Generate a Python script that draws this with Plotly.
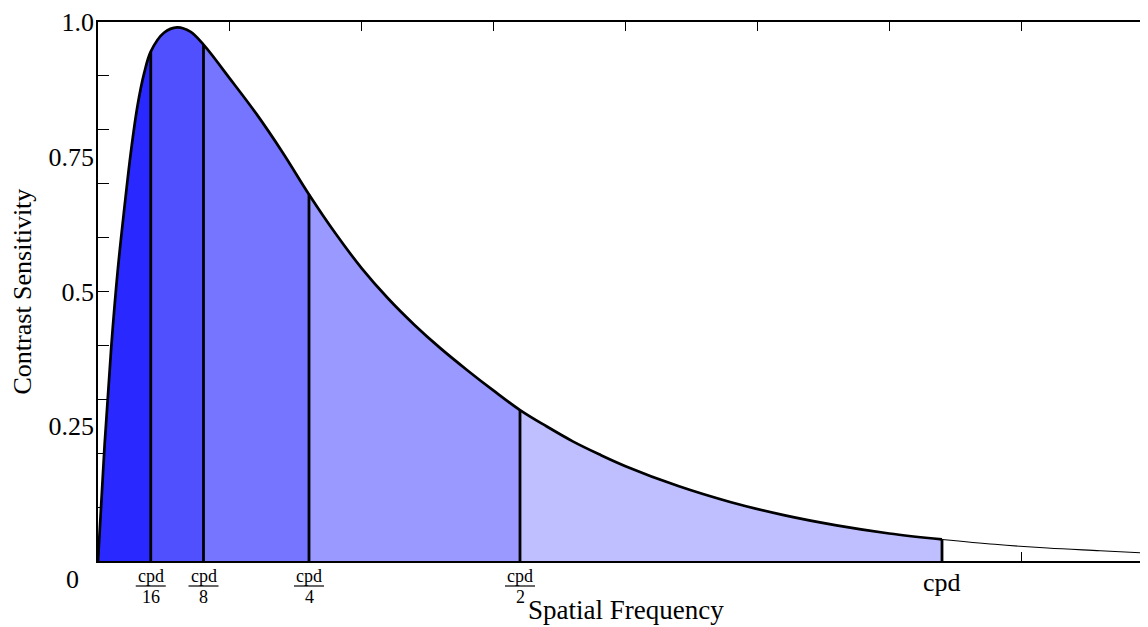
import plotly.graph_objects as go

# ---- data ----
freq = [0, 0.25, 0.5, 0.75, 1, 1.25, 1.5, 1.75, 2, 2.5, 3, 3.5, 4, 5, 6, 7, 8, 9, 10,
        11, 12, 13, 14, 15, 16, 17, 18, 19, 20, 22, 24, 26, 28, 30, 32, 34, 36, 38, 40]
sens = [0, 0.215, 0.395, 0.54, 0.655, 0.76, 0.845, 0.905, 0.945, 0.98, 0.99, 0.982, 0.958,
        0.895, 0.83, 0.758, 0.68, 0.608, 0.543, 0.487, 0.438, 0.394, 0.354, 0.316, 0.28,
        0.25, 0.222, 0.198, 0.176, 0.139, 0.109, 0.085, 0.066, 0.051, 0.040, 0.031,
        0.024, 0.019, 0.014]
band_edges = [0, 2, 4, 8, 16, 32]
band_colors = ['#2828FF', '#5050FF', '#7575FF', '#9999FF', '#BFBFFF']
frac_pos = [2, 4, 8, 16]
frac_den = ['16', '8', '4', '2']
cpd_pos = 32
xtick_vals = [0, 5, 10, 15, 20, 25, 30, 35]
ytick_minor = [0.1, 0.2, 0.3, 0.4, 0.5, 0.6, 0.7, 0.8, 0.9, 1.0]
ytick_lab_vals = [0.25, 0.5, 0.75, 1.0]
ytick_lab_text = ['0.25', '0.5', '0.75', '1.0']

FONT = "Liberation Serif, DejaVu Serif, serif"
# the page body has an 8px margin, so the figure is drawn 8px in from the corner
OFF = 8
W, H = 1148 - OFF, 627 - OFF
PL, PT, PB, PR = 98, 19, 561, 1148          # plot-area edges in window pixels
L, T, B, R = PL - OFF, PT - OFF, H - (PB - OFF), 0
PW, PH = PR - PL, PB - PT
px_per_unit = 26.375
x_max = PW / px_per_unit


def py(ywin):
    return (PB - ywin) / PH


def px(xwin):
    return (xwin - PL) / PW


val = dict(zip(freq, sens))

fig = go.Figure()

# filled bands
for i, c in enumerate(band_colors):
    a, b = band_edges[i], band_edges[i + 1]
    xs = [f for f in freq if a <= f <= b]
    ys = [val[f] for f in xs]
    fig.add_trace(go.Scatter(x=xs, y=ys, mode='lines', fill='tozeroy', fillcolor=c,
                             line=dict(color=c, width=0.5, shape='spline'),
                             hoverinfo='skip', showlegend=False))

# thick curve up to cpd, thin after
xs_in = [f for f in freq if f <= cpd_pos]
xs_out = [f for f in freq if f >= cpd_pos]
fig.add_trace(go.Scatter(x=xs_in, y=[val[f] for f in xs_in], mode='lines',
                         line=dict(color='black', width=2.7, shape='spline'), showlegend=False))
fig.add_trace(go.Scatter(x=xs_out, y=[val[f] for f in xs_out], mode='lines',
                         line=dict(color='black', width=1.1, shape='spline'), showlegend=False))

# vertical separators
vx, vy = [], []
for e in band_edges[1:]:
    vx += [e, e, None]
    vy += [0, val[e], None]
fig.add_trace(go.Scatter(x=vx, y=vy, mode='lines', line=dict(color='black', width=2.8),
                         showlegend=False))

# dummy traces for overlay axes
fig.add_trace(go.Scatter(x=[None], y=[None], yaxis='y2', showlegend=False))
fig.add_trace(go.Scatter(x=[None], y=[None], yaxis='y3', showlegend=False))

annotations = []
shapes = []
# fraction tick labels
for p, d in zip(frac_pos, frac_den):
    annotations.append(dict(x=p, xref='x', y=py(576), yref='paper', text='cpd',
                            showarrow=False, xanchor='center', yanchor='middle',
                            font=dict(family=FONT, size=18, color='black')))
    annotations.append(dict(x=p, xref='x', y=py(597), yref='paper', text=d,
                            showarrow=False, xanchor='center', yanchor='middle',
                            font=dict(family=FONT, size=18, color='black')))
    shapes.append(dict(type='line', xref='x', xsizemode='pixel', xanchor=p, x0=-15, x1=15,
                       yref='paper', ysizemode='pixel', yanchor=0, y0=-25, y1=-25,
                       line=dict(color='black', width=1.2)))
annotations.append(dict(x=cpd_pos, xref='x', y=py(583), yref='paper', text='cpd',
                        showarrow=False, xanchor='center', yanchor='middle',
                        font=dict(family=FONT, size=26, color='black')))
annotations.append(dict(x=px(72), xref='paper', y=py(580), yref='paper', text='0',
                        showarrow=False, xanchor='center', yanchor='middle',
                        font=dict(family=FONT, size=26, color='black')))
annotations.append(dict(x=px(626), xref='paper', y=py(610), yref='paper',
                        text='Spatial Frequency', showarrow=False,
                        xanchor='center', yanchor='middle',
                        font=dict(family=FONT, size=27, color='black')))
annotations.append(dict(x=px(22), xref='paper', y=py(290), yref='paper',
                        text='Contrast Sensitivity', textangle=-90, showarrow=False,
                        xanchor='center', yanchor='middle',
                        font=dict(family=FONT, size=26, color='black')))

fig.update_layout(
    width=W, height=H, margin=dict(l=L, r=R, t=T, b=B, pad=0),
    paper_bgcolor='white', plot_bgcolor='white',
    showlegend=False,
    xaxis=dict(range=[0, x_max], tickmode='array', tickvals=xtick_vals, ticks='inside',
               ticklen=9, tickwidth=1, tickcolor='black', showticklabels=False,
               showline=True, linecolor='black', linewidth=1.6, mirror='ticks',
               showgrid=False, zeroline=False, layer='below traces', fixedrange=True),
    yaxis=dict(range=[0, 1], tickmode='array', tickvals=ytick_minor, ticks='inside',
               ticklen=11, tickwidth=1, tickcolor='black', showticklabels=False,
               showline=True, linecolor='black', linewidth=1.6, showgrid=False,
               zeroline=False, layer='below traces', fixedrange=True),
    yaxis2=dict(range=[0, 1], overlaying='y', side='left', anchor='x', tickmode='array',
                tickvals=ytick_lab_vals, ticktext=ytick_lab_text, ticks='',
                showline=False, showgrid=False, zeroline=False, ticklabeloverflow='allow',
                ticklabelstandoff=3,
                tickfont=dict(family=FONT, size=26, color='black'), fixedrange=True),
    yaxis3=dict(range=[0, 1], overlaying='y', side='right', anchor='x', tickmode='array',
                tickvals=ytick_minor, ticks='inside', ticklen=3, tickcolor='black',
                showticklabels=False, showline=False, showgrid=False, zeroline=False,
                fixedrange=True),
    annotations=annotations,
    shapes=shapes,
)

fig.write_html("out.html")
